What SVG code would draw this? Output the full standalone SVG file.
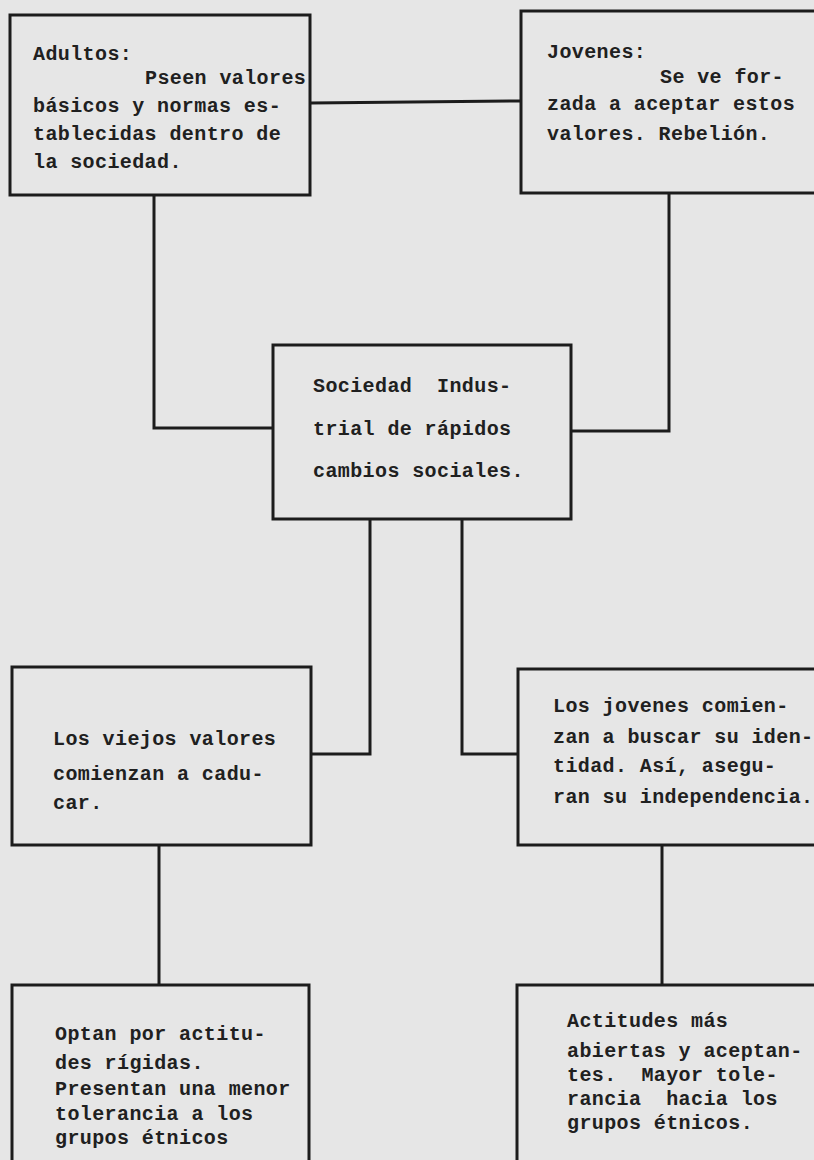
<svg xmlns="http://www.w3.org/2000/svg" width="814" height="1160" viewBox="0 0 814 1160">
<style>
.box{fill:none;stroke:#1c1c1c;stroke-width:3}
.con{fill:none;stroke:#1c1c1c;stroke-width:3}
.t{font-family:"Liberation Mono","DejaVu Sans Mono",monospace;font-size:20px;font-weight:bold;fill:#202020;letter-spacing:0.4px}
</style>
<rect x="0" y="0" width="814" height="1160" fill="#e6e6e6"/>
<g id="connectors">
<line class="con" x1="311" y1="103" x2="521" y2="101"/>
<path class="con" d="M154,195 V428 H273"/>
<path class="con" d="M669,193 V431 H571"/>
<path class="con" d="M370,519 V754 H311"/>
<path class="con" d="M462,520 V754 H519"/>
<path class="con" d="M159,845 V985"/>
<path class="con" d="M662,845 V985"/>
</g>
<g id="adultos">
<rect class="box" x="10" y="15" width="300" height="180"/>
<text class="t" x="33" y="60">Adultos:</text>
<text class="t" x="145" y="84">Pseen valores</text>
<text class="t" x="33" y="112">básicos y normas es-</text>
<text class="t" x="33" y="140">tablecidas dentro de</text>
<text class="t" x="33" y="168">la sociedad.</text>
</g>
<g id="jovenes">
<rect class="box" x="521" y="11" width="320" height="182"/>
<text class="t" x="547" y="58">Jovenes:</text>
<text class="t" x="660" y="83">Se ve for-</text>
<text class="t" x="547" y="110">zada a aceptar estos</text>
<text class="t" x="547" y="140">valores. Rebelión.</text>
</g>
<g id="sociedad">
<rect class="box" x="273" y="345" width="298" height="174"/>
<text class="t" x="313" y="392" xml:space="preserve">Sociedad  Indus-</text>
<text class="t" x="313" y="435">trial de rápidos</text>
<text class="t" x="313" y="477">cambios sociales.</text>
</g>
<g id="viejos">
<rect class="box" x="12" y="667" width="299" height="178"/>
<text class="t" x="53" y="745">Los viejos valores</text>
<text class="t" x="53" y="780">comienzan a cadu-</text>
<text class="t" x="53" y="809">car.</text>
</g>
<g id="identidad">
<rect class="box" x="518" y="669" width="320" height="176"/>
<text class="t" x="553" y="712">Los jovenes comien-</text>
<text class="t" x="553" y="743">zan a buscar su iden-</text>
<text class="t" x="553" y="772">tidad. Así, asegu-</text>
<text class="t" x="553" y="803">ran su independencia.</text>
</g>
<g id="rigidas">
<rect class="box" x="12" y="985" width="297" height="200"/>
<text class="t" x="55" y="1040">Optan por actitu-</text>
<text class="t" x="55" y="1069">des rígidas.</text>
<text class="t" x="55" y="1095">Presentan una menor</text>
<text class="t" x="55" y="1120">tolerancia a los</text>
<text class="t" x="55" y="1144">grupos étnicos</text>
</g>
<g id="abiertas">
<rect class="box" x="517" y="985" width="320" height="200"/>
<text class="t" x="567" y="1027">Actitudes más</text>
<text class="t" x="567" y="1057">abiertas y aceptan-</text>
<text class="t" x="567" y="1081" xml:space="preserve">tes.  Mayor tole-</text>
<text class="t" x="567" y="1105" xml:space="preserve">rancia  hacia los</text>
<text class="t" x="567" y="1129">grupos étnicos.</text>
</g>
</svg>
